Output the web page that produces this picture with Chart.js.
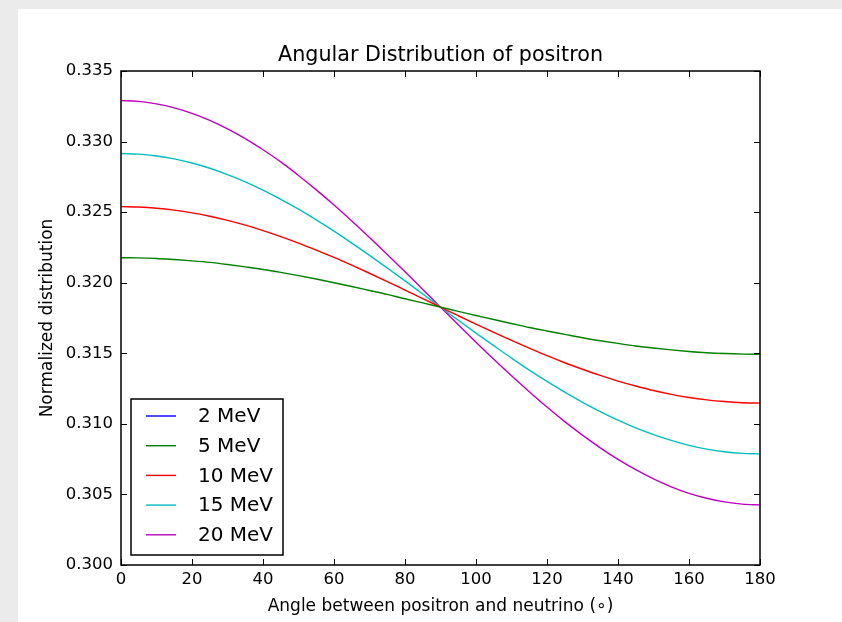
<!DOCTYPE html>
<html>
<head>
<meta charset="utf-8">
<script src="https://cdn.jsdelivr.net/npm/chart.js@4"></script>
<style>
  html, body { margin:0; padding:0; background:#ebebeb; overflow:hidden; }
  #wrap { position:absolute; left:18px; top:9px; width:824px; height:613px; background:#fff; }
  canvas { display:block; }
</style>
</head>
<body>
<div id="wrap"><canvas id="c" width="824" height="613"></canvas></div>
<script>
// angle between positron and neutrino, degrees
const angles = [0,5,10,15,20,25,30,35,40,45,50,55,60,65,70,75,80,85,90,
                95,100,105,110,115,120,125,130,135,140,145,150,155,160,165,170,175,180];

// normalized distribution
const mev2  = []; // legend entry only, no line visible in the plot
const mev5  = [0.32177,0.32176,0.32172,0.32164,0.32155,0.32144,0.32129,0.32112,0.32094,0.32073,
               0.32050,0.32026,0.32000,0.31973,0.31945,0.31917,0.31886,0.31857,0.31827,
               0.31797,0.31768,0.31739,0.31711,0.31683,0.31658,0.31634,0.31610,0.31589,0.31570,
               0.31552,0.31537,0.31524,0.31513,0.31504,0.31498,0.31494,0.31493];
const mev10 = [0.32539,0.32536,0.32528,0.32514,0.32495,0.32471,0.32442,0.32408,0.32369,0.32327,
               0.32281,0.32231,0.32179,0.32124,0.32067,0.32008,0.31948,0.31888,0.31827,
               0.31766,0.31706,0.31648,0.31591,0.31536,0.31483,0.31433,0.31387,0.31343,0.31303,
               0.31268,0.31236,0.31209,0.31187,0.31170,0.31158,0.31150,0.31147];
const mev15 = [0.32915,0.32911,0.32898,0.32877,0.32848,0.32811,0.32766,0.32715,0.32656,0.32591,
               0.32521,0.32445,0.32365,0.32281,0.32194,0.32104,0.32013,0.31920,0.31827,
               0.31734,0.31643,0.31554,0.31466,0.31381,0.31301,0.31225,0.31153,0.31087,0.31026,
               0.30971,0.30924,0.30883,0.30848,0.30821,0.30802,0.30791,0.30787];
const mev20 = [0.33290,0.33285,0.33267,0.33239,0.33200,0.33150,0.33090,0.33021,0.32942,0.32856,
               0.32760,0.32658,0.32551,0.32438,0.32321,0.32200,0.32077,0.31952,0.31827,
               0.31702,0.31579,0.31458,0.31341,0.31228,0.31119,0.31016,0.30920,0.30830,0.30748,
               0.30675,0.30610,0.30554,0.30508,0.30473,0.30447,0.30431,0.30426];

const labels = ['2 MeV','5 MeV','10 MeV','15 MeV','20 MeV'];
const colors = ['#0000ff','#008000','#ff0000','#00bfbf','#bf00bf'];
const series = [mev2, mev5, mev10, mev15, mev20];

const xTicks = [0,20,40,60,80,100,120,140,160,180];
const yTicks = [0.300,0.305,0.310,0.315,0.320,0.325,0.330,0.335];

const title = 'Angular Distribution of positron';
const FONT = "'DejaVu Sans', sans-serif";

// title over the plot box, inward ticks on all four sides, frame and legend box
const framePlugin = {
  id: 'frame',
  afterDraw(chart){
    const {ctx, chartArea:a, scales:{x, y}} = chart;
    ctx.save();
    ctx.fillStyle = '#000';
    ctx.font = '20.7px ' + FONT;
    ctx.textAlign = 'center';
    ctx.textBaseline = 'middle';
    ctx.fillText(title, (a.left + a.right) / 2, a.top - 15);

    ctx.strokeStyle = '#000';
    ctx.lineWidth = 1;
    const tl = 6;
    ctx.beginPath();
    xTicks.forEach(v => {
      const px = Math.round(x.getPixelForValue(v)) + 0.5;
      ctx.moveTo(px, a.bottom); ctx.lineTo(px, a.bottom - tl);
      ctx.moveTo(px, a.top); ctx.lineTo(px, a.top + tl);
    });
    yTicks.forEach(v => {
      const py = Math.round(y.getPixelForValue(v)) + 0.5;
      ctx.moveTo(a.left, py); ctx.lineTo(a.left + tl, py);
      ctx.moveTo(a.right, py); ctx.lineTo(a.right - tl, py);
    });
    ctx.stroke();
    ctx.lineWidth = 1.5;
    ctx.strokeRect(a.left, a.top, a.right - a.left, a.bottom - a.top);

    // legend, lower left
    const bx = a.left + 10, by = a.bottom - 166, bw = 152, bh = 156;
    ctx.fillStyle = '#fff';
    ctx.fillRect(bx, by, bw, bh);
    ctx.strokeRect(bx, by, bw, bh);
    ctx.font = '20px ' + FONT;
    ctx.textAlign = 'left';
    chart.data.datasets.forEach((ds, i) => {
      const ry = by + 17 + i * 29.7;
      ctx.strokeStyle = ds.borderColor;
      ctx.lineWidth = 1.4;
      ctx.beginPath();
      ctx.moveTo(bx + 15, ry); ctx.lineTo(bx + 45, ry);
      ctx.stroke();
      ctx.fillStyle = '#000';
      ctx.fillText(ds.label, bx + 67, ry + 1);
    });
    ctx.restore();
  }
};

const datasets = series.map((vals, i) => ({
  label: labels[i],
  data: vals.map((v, j) => ({x: angles[j], y: v})),
  borderColor: colors[i],
  backgroundColor: colors[i],
  borderWidth: 1.4,
  pointRadius: 0,
  fill: false,
  cubicInterpolationMode: 'monotone'
}));

new Chart(document.getElementById('c'), {
  type: 'line',
  data: { datasets },
  options: {
    responsive: false,
    animation: false,
    devicePixelRatio: 1,
    layout: { padding: { left: 0, right: 82, top: 62, bottom: 0 } },
    plugins: {
      legend: { display: false },
      tooltip: { enabled: false },
      title: { display: false }
    },
    scales: {
      x: {
        type: 'linear',
        min: 0, max: 180,
        grid: { display: false, drawTicks: false },
        border: { display: false },
        afterBuildTicks: s => { s.ticks = xTicks.map(v => ({value: v})); },
        afterFit: s => { s.height = 57; },
        ticks: { color: '#000', padding: 5, maxRotation: 0, autoSkip: false,
                 font: { family: FONT, size: 16.5 }, callback: v => String(v) },
        title: { display: true, text: 'Angle between positron and neutrino (∘)', color: '#000',
                 font: { family: FONT, size: 17 }, padding: { bottom: 5, top: 0 } }
      },
      y: {
        min: 0.300, max: 0.335,
        grid: { display: false, drawTicks: false },
        border: { display: false },
        afterBuildTicks: s => { s.ticks = yTicks.map(v => ({value: v})); },
        afterFit: s => { s.width = 103; },
        ticks: { color: '#000', padding: 8, autoSkip: false,
                 font: { family: FONT, size: 16.5 }, callback: v => v.toFixed(3) },
        title: { display: true, text: 'Normalized distribution', color: '#000',
                 font: { family: FONT, size: 17 }, padding: { top: 19, bottom: 0 } }
      }
    }
  },
  plugins: [framePlugin]
});
</script>
</body>
</html>
